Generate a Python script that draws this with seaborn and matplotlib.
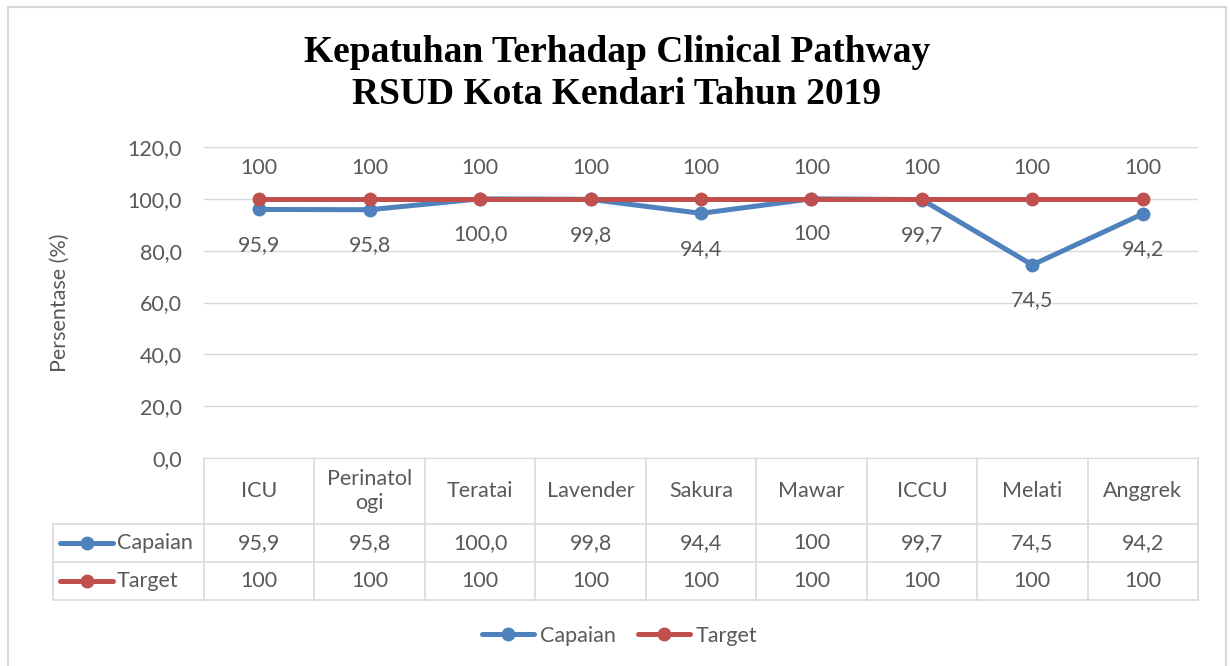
import pandas as pd
import matplotlib.pyplot as plt
import seaborn as sns
from matplotlib.lines import Line2D
from matplotlib.patches import Rectangle
import matplotlib.transforms as mtransforms

# Data
units = ["ICU", "Perinatologi", "Teratai", "Lavender", "Sakura", "Mawar", "ICCU", "Melati", "Anggrek"]
unit_headers = ["ICU", "Perinatol\nogi", "Teratai", "Lavender", "Sakura", "Mawar", "ICCU", "Melati", "Anggrek"]
capaian = [95.9, 95.8, 100.0, 99.8, 94.4, 100, 99.7, 74.5, 94.2]
capaian_labels = ["95,9", "95,8", "100,0", "99,8", "94,4", "100", "99,7", "74,5", "94,2"]
target = [100, 100, 100, 100, 100, 100, 100, 100, 100]
target_labels = ["100"] * 9
yticks = [0, 20, 40, 60, 80, 100, 120]

df = pd.DataFrame({
    "Unit": units * 2,
    "Persen": capaian + target,
    "Seri": ["Capaian"] * 9 + ["Target"] * 9,
})

BLUE = "#4F81BD"
RED = "#C0504D"
GRAY = "#595959"
LINE = "#D9D9D9"
FS = 15.5

sns.set_style("white")
plt.rcParams['font.family'] = ['Lato', 'DejaVu Sans']

W, H = 1230, 666
fig = plt.figure(figsize=(12.3, 6.66), dpi=100)
ax = fig.add_axes([204 / W, 1 - 458 / H, (1198 - 204) / W, (458 - 147) / H])

sns.lineplot(data=df, x="Unit", y="Persen", hue="Seri", palette={"Capaian": BLUE, "Target": RED},
             marker="o", markersize=10, markeredgewidth=0, linewidth=3.6, sort=False,
             legend=False, ax=ax)

ax.set_xlim(-0.5, 8.5)
ax.set_ylim(0, 120)
ax.set_yticks(yticks)
ax.set_yticklabels([f"{v:.1f}".replace(".", ",") for v in yticks], color=GRAY, fontsize=FS)
ax.tick_params(axis="y", length=0, pad=16)
ax.set_xticks([])
ax.set_xlabel("")
ax.set_ylabel("Persentase (%)", color=GRAY, fontsize=FS)
ax.yaxis.set_label_coords((70 - 204) / 994, 0.5)
ax.grid(axis="y", color=LINE, linewidth=1)
for s in ["top", "right", "left"]:
    ax.spines[s].set_visible(False)
ax.spines["bottom"].set_color(LINE)

# data labels
for i in range(len(units)):
    ax.annotate(target_labels[i], (i, target[i]), xytext=(0, 22.5), textcoords="offset points",
                ha="center", va="center", color=GRAY, fontsize=FS)
    ax.annotate(capaian_labels[i], (i, capaian[i]), xytext=(0, -25.5), textcoords="offset points",
                ha="center", va="center", color=GRAY, fontsize=FS)

# data table below the axes
ax_h = 458 - 147
def ay(px):
    return -(px - 458) / ax_h

trans = mtransforms.blended_transform_factory(ax.transData, ax.transAxes)
row_y = [458, 524, 562, 600]
x_left = (53 - 204) / 994
for yy in row_y[1:]:
    ax.plot([x_left, 1], [ay(yy), ay(yy)], color=LINE, lw=1.2, transform=ax.transAxes, clip_on=False)
for k in range(len(units) + 1):
    ax.plot([k - 0.5, k - 0.5], [0, ay(600)], color=LINE, lw=1.2, transform=trans, clip_on=False)
ax.plot([x_left, x_left], [ay(524), ay(600)], color=LINE, lw=1.2, transform=ax.transAxes, clip_on=False)

for i in range(len(units)):
    ax.text(i, ay(491), unit_headers[i], ha="center", va="center", color=GRAY, fontsize=FS,
            transform=trans, linespacing=1.3)
    ax.text(i, ay(543), capaian_labels[i], ha="center", va="center", color=GRAY, fontsize=FS, transform=trans)
    ax.text(i, ay(581), target_labels[i], ha="center", va="center", color=GRAY, fontsize=FS, transform=trans)

for name, color, yy in [("Capaian", BLUE, 543), ("Target", RED, 581)]:
    x0, x1 = (60 - 204) / 994, (113 - 204) / 994
    ax.plot([x0, x1], [ay(yy), ay(yy)], color=color, lw=3.6, transform=ax.transAxes, clip_on=False,
            solid_capstyle="round")
    ax.plot([(x0 + x1) / 2], [ay(yy)], "o", color=color, ms=10, mew=0, transform=ax.transAxes, clip_on=False)
    ax.text((117 - 204) / 994, ay(yy), name, ha="left", va="center", color=GRAY, fontsize=FS,
            transform=ax.transAxes)

# title
fig.text(617 / W, 1 - 52 / H, "Kepatuhan Terhadap Clinical Pathway", ha="center", va="center",
         fontsize=27, fontweight="bold", family="Liberation Serif", color="black")
fig.text(617 / W, 1 - 95 / H, "RSUD Kota Kendari Tahun 2019", ha="center", va="center",
         fontsize=27, fontweight="bold", family="Liberation Serif", color="black")

# legend
handles = [Line2D([0], [0], color=BLUE, lw=3.6, marker="o", ms=10, mew=0),
           Line2D([0], [0], color=RED, lw=3.6, marker="o", ms=10, mew=0)]
fig.legend(handles, ["Capaian", "Target"], loc="center", bbox_to_anchor=(620 / W, 1 - 636 / H),
           ncol=2, frameon=False, fontsize=FS, handlelength=2.4, handletextpad=0.3,
           columnspacing=1.0, labelcolor=GRAY)

# outer border
fig.patches.append(Rectangle((8 / W, -0.05), (1226 - 8) / W, 1.04, transform=fig.transFigure,
                             fill=False, edgecolor=LINE, lw=1.5))

fig.savefig("out.png", dpi=100)
